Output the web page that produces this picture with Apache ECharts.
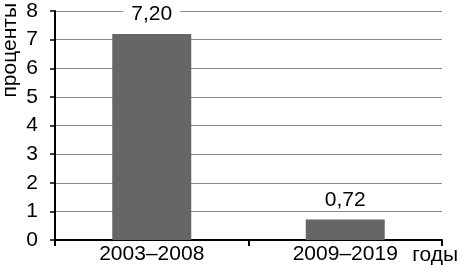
<!DOCTYPE html>
<html><head><meta charset="utf-8">
<script src="https://cdn.jsdelivr.net/npm/echarts@6/dist/echarts.min.js"></script>
<style>html,body{margin:0;padding:0;background:#fff}#c{width:461px;height:271px}</style>
</head><body><div id="c"></div>
<script>
const categories = ['2003–2008', '2009–2019'];
const values = [7.20, 0.72];
const yTicks = [0, 1, 2, 3, 4, 5, 6, 7, 8];

const chart = echarts.init(document.getElementById('c'), null, {renderer: 'canvas'});
const font = 'Liberation Sans, Arial, sans-serif';
chart.setOption({
  animation: false,
  grid: {left: 54, right: 16, top: 8, bottom: 31, containLabel: false},
  xAxis: {
    type: 'category', data: categories, boundaryGap: true,
    axisLine: {lineStyle: {color: '#000', width: 2}},
    axisTick: {show: true, alignWithLabel: false, length: 6, lineStyle: {color: '#000', width: 2}},
    axisLabel: {color: '#000', fontSize: 21, fontFamily: font, margin: 4},
    name: 'годы', nameLocation: 'end', nameGap: 0,
    nameTextStyle: {color: '#000', fontSize: 21, fontFamily: font, align: 'right', verticalAlign: 'top', padding: [5, -16, 0, 0]}
  },
  yAxis: {
    type: 'value', min: yTicks[0], max: yTicks[yTicks.length - 1], interval: 1,
    axisLine: {show: true, lineStyle: {color: '#000', width: 2}},
    axisTick: {show: true, length: 5, lineStyle: {color: '#000', width: 1.5}},
    axisLabel: {color: '#000', fontSize: 21, fontFamily: font, margin: 17},
    splitLine: {show: true, lineStyle: {color: '#8a8a8a', width: 1}},
    name: 'проценты', nameLocation: 'end', nameRotate: 90, nameGap: 8,
    nameTextStyle: {color: '#000', fontSize: 21, fontFamily: font, align: 'right', verticalAlign: 'bottom', padding: [0, 0, 34, 0]}
  },
  series: [{
    type: 'bar', data: values, barWidth: 79,
    itemStyle: {color: '#666666'},
    label: {
      show: true, position: 'top', distance: 9, color: '#000', fontSize: 21, fontFamily: font,
      backgroundColor: '#fff', padding: [0, 8, 0, 8],
      formatter: p => p.value.toFixed(2).replace('.', ',')
    }
  }]
});
</script></body></html>
